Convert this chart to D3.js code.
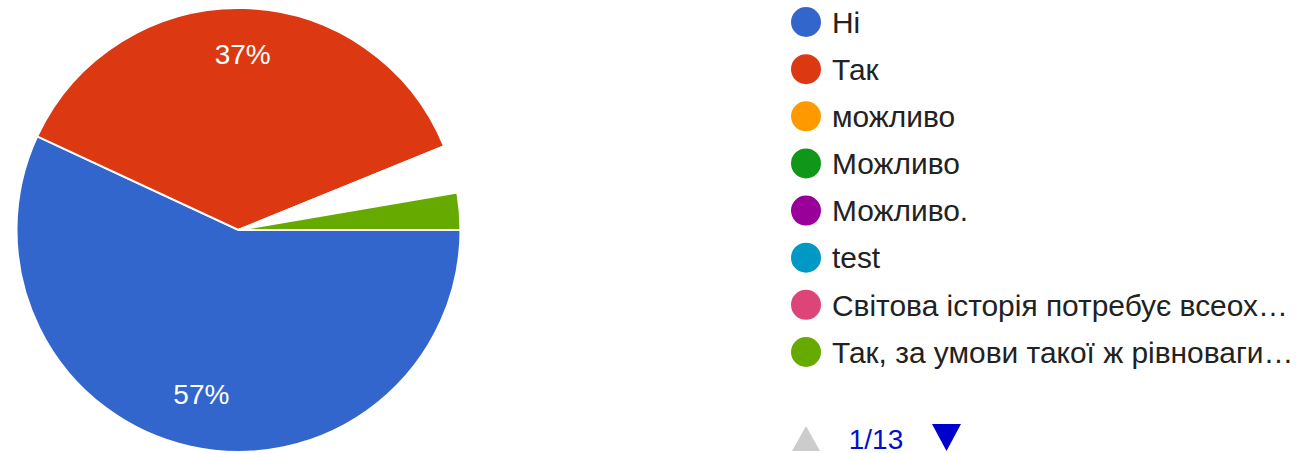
<!DOCTYPE html>
<html>
<head>
<meta charset="utf-8">
<script src="https://cdn.jsdelivr.net/npm/d3@7"></script>
<style>
  html, body { margin: 0; padding: 0; background: #fff; }
  svg { display: block; font-family: "Liberation Sans", Arial, sans-serif; }
</style>
</head>
<body>
<svg id="chart" width="1312" height="453"></svg>
<script>
const categories = ["Ні", "Так", "можливо", "Можливо", "Можливо.", "test",
    "Світова історія потребує всеох…", "Так, за умови такої ж рівноваги…"];
const shares = [56.9, 36.9, 0.69, 0.69, 0.69, 0.69, 0.69, 2.7];
const colors = ["#3366cc", "#dc3912", "#ff9900", "#109618", "#990099", "#0099c6", "#dd4477", "#66aa00"];
const pageLabel = "1/13";

const svg = d3.select("#chart");
const cx = 238.5, cy = 230, radius = 222;

const color = d3.scaleOrdinal().domain(categories).range(colors);
const pie = d3.pie()
    .sort(null)
    .value(d => d.share)
    .startAngle(Math.PI / 2)
    .endAngle(Math.PI / 2 + 2 * Math.PI);

const data = categories.map((c, i) => ({ name: c, share: shares[i] }));
const total = d3.sum(shares);
const arcs = pie(data);

const arc = d3.arc().innerRadius(0).outerRadius(radius);
const labelArc = d3.arc().innerRadius(172).outerRadius(172);

const g = svg.append("g").attr("transform", `translate(${cx},${cy})`);

// slices under 1% disappear under the white borders
g.selectAll("path")
    .data(arcs)
    .join("path")
    .attr("d", arc)
    .attr("fill", d => d.data.share / total < 0.01 ? "#ffffff" : color(d.data.name))
    .attr("stroke", "#ffffff")
    .attr("stroke-width", 2);

g.selectAll("text")
    .data(arcs.filter(d => d.data.share / total >= 0.05))
    .join("text")
    .attr("transform", d => `translate(${labelArc.centroid(d)})`)
    .attr("text-anchor", "middle")
    .attr("dy", "0.22em")
    .attr("fill", "#ffffff")
    .attr("font-size", 28)
    .text(d => Math.round(d.data.share / total * 100) + "%");

// legend
const legendY = d3.scalePoint().domain(categories).range([22, 352]);
const legend = svg.append("g");
const item = legend.selectAll("g")
    .data(categories)
    .join("g")
    .attr("transform", d => `translate(806,${legendY(d)})`);

item.append("circle")
    .attr("r", 15)
    .attr("fill", d => color(d));

item.append("text")
    .attr("x", 26)
    .attr("dy", "0.36em")
    .attr("font-size", 29.9)
    .attr("fill", "#222222")
    .text(d => d);

// pager
const pager = svg.append("g");
pager.append("path")
    .attr("d", "M792,451 L806,426 L820,451 Z")
    .attr("fill", "#cccccc");
pager.append("text")
    .attr("x", 876)
    .attr("y", 449)
    .attr("text-anchor", "middle")
    .attr("font-size", 28)
    .attr("fill", "#0011cc")
    .text(pageLabel);
pager.append("path")
    .attr("d", "M932,424 L961,424 L946.5,451 Z")
    .attr("fill", "#0000cc");
</script>
</body>
</html>
